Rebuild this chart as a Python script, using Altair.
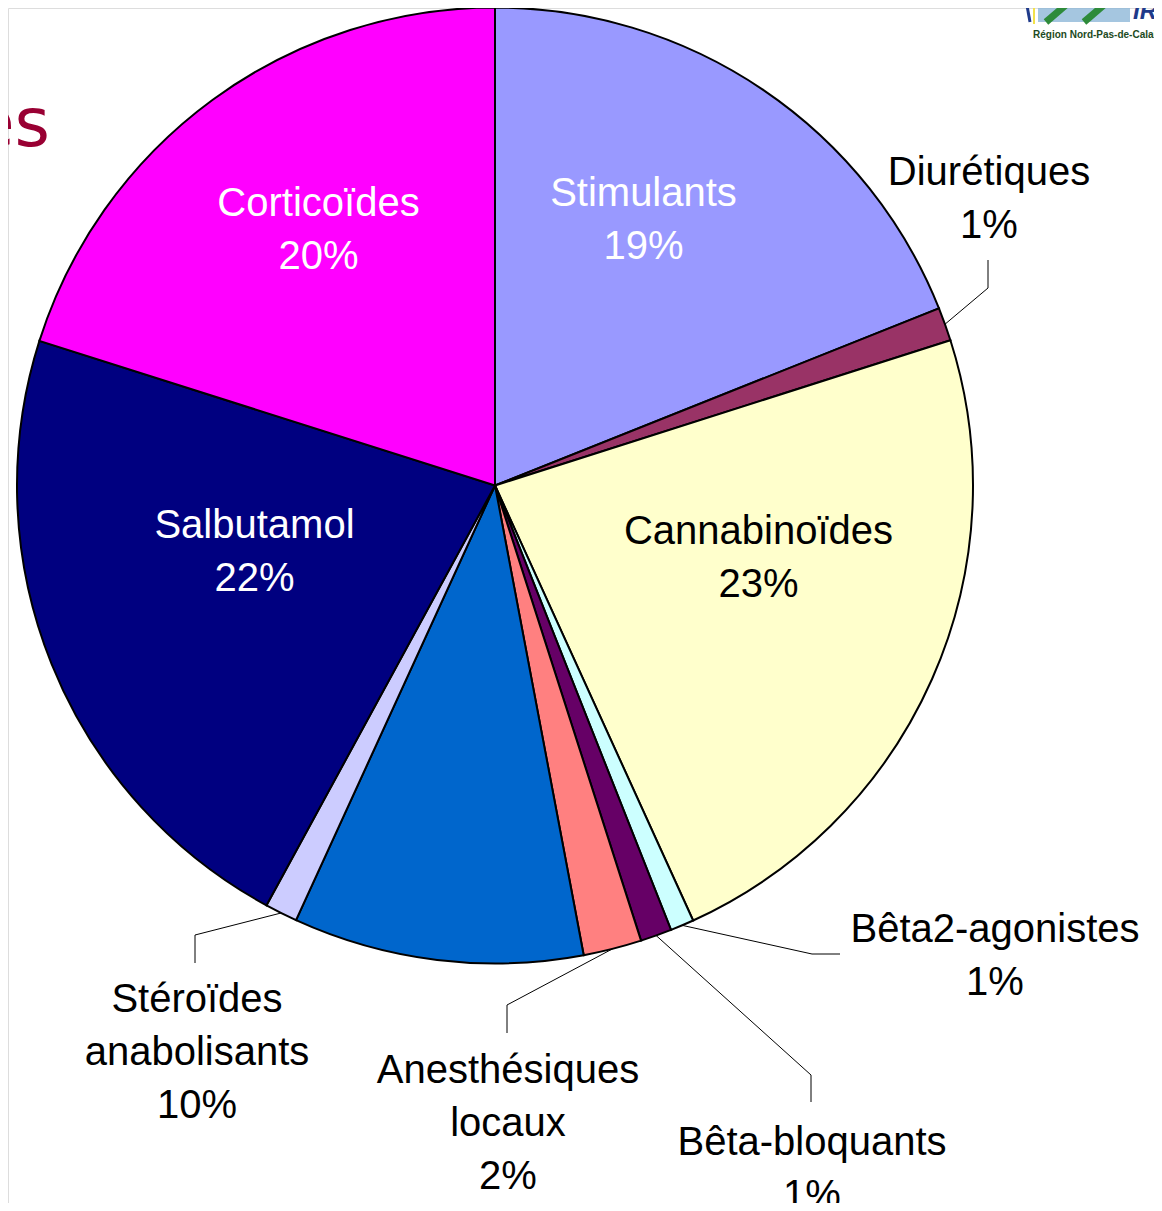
import math
import altair as alt
import pandas as pd

# ---------------- data ----------------
categories = ["Stimulants", "Diurétiques", "Cannabinoïdes", "Bêta2-agonistes",
              "Bêta-bloquants", "Anesthésiques locaux", "Stéroïdes anabolisants",
              "Autres", "Salbutamol", "Corticoïdes"]
values = [18.95, 1.13, 23.1, 0.8, 1.06, 1.97, 9.8, 1.1, 21.95, 20.1]
colors = ["#9999FF", "#993366", "#FFFFCC", "#CCFFFF", "#660066",
          "#FF8080", "#0066CC", "#CCCCFF", "#000080", "#FF00FF"]

label_lines = {
    "Stimulants": ["Stimulants", "19%"],
    "Corticoïdes": ["Corticoïdes", "20%"],
    "Salbutamol": ["Salbutamol", "22%"],
    "Cannabinoïdes": ["Cannabinoïdes", "23%"],
    "Diurétiques": ["Diurétiques", "1%"],
    "Bêta2-agonistes": ["Bêta2-agonistes", "1%"],
    "Bêta-bloquants": ["Bêta-bloquants", "1%"],
    "Anesthésiques locaux": ["Anesthésiques", "locaux", "2%"],
    "Stéroïdes anabolisants": ["Stéroïdes", "anabolisants", "10%"],
}

# ---------------- layout (page pixels) ----------------
OFF = 8                      # page margin
CX, CY, R = 495, 485.5, 478  # pie centre / radius (page coords)
FS, LH = 40, 53

label_layout = {             # centre x, first baseline y, colour
    "Stimulants": (643.5, 206, "white"),
    "Corticoïdes": (318.5, 216, "white"),
    "Salbutamol": (254.5, 538, "white"),
    "Cannabinoïdes": (758.5, 544, "black"),
    "Diurétiques": (989, 185, "black"),
    "Bêta2-agonistes": (995, 942, "black"),
    "Bêta-bloquants": (812, 1155, "black"),
    "Anesthésiques locaux": (508, 1083, "black"),
    "Stéroïdes anabolisants": (197, 1012, "black"),
}
# leader lines: anchor slice, elbow point, end point
leaders = {
    "Diurétiques": ("Diurétiques", (988, 288), (988, 260)),
    "Bêta2-agonistes": ("Bêta2-agonistes", (812, 954), (840, 954)),
    "Bêta-bloquants": ("Bêta-bloquants", (811, 1075), (811, 1102)),
    "Anesthésiques locaux": ("Anesthésiques locaux", (507, 1005), (507, 1033)),
    "Stéroïdes anabolisants": ("Autres", (195, 935), (195, 963)),
}

# ---------------- tables ----------------
pie_df = pd.DataFrame({"cat": categories, "value": values,
                       "idx": list(range(len(categories)))})

total = sum(values)
mid_angle = {}
cum = 0.0
for c, v in zip(categories, values):
    mid_angle[c] = 2 * math.pi * (cum + v / 2) / total
    cum += v

lead_rows = []
for name, (anchor, elbow, end) in leaders.items():
    a = mid_angle[anchor]
    sx = CX + R * math.sin(a)
    sy = CY - R * math.cos(a)
    for k, (px, py) in enumerate([(sx, sy), elbow, end]):
        lead_rows.append({"g": name, "k": k, "x": px - OFF, "y": py - OFF})
lead_df = pd.DataFrame(lead_rows)

txt_rows = []
for name, lines in label_lines.items():
    lx, ly, col = label_layout[name]
    for i, t in enumerate(lines):
        txt_rows.append({"t": t, "x": lx - OFF, "y": ly - OFF + i * LH, "col": col})
txt_df = pd.DataFrame(txt_rows)

W, H = 1146, 1195


def px_x(f="x"):
    return alt.X(f"{f}:Q", scale=None, axis=None)


def px_y(f="y"):
    return alt.Y(f"{f}:Q", scale=None, axis=None)


pie = alt.Chart(pie_df).mark_arc(outerRadius=R, stroke="black", strokeWidth=2).encode(
    theta=alt.Theta("value:Q", stack=True),
    color=alt.Color("cat:N", scale=alt.Scale(domain=categories, range=colors), legend=None),
    order=alt.Order("idx:Q"),
    x=alt.value(CX - OFF),
    y=alt.value(CY - OFF),
)

lead = alt.Chart(lead_df).mark_line(color="black", strokeWidth=1).encode(
    x=px_x(), y=px_y(), detail="g:N", order="k:Q",
)

labels = alt.Chart(txt_df).mark_text(
    font="Liberation Sans", fontSize=FS, align="center", baseline="alphabetic"
).encode(
    x=px_x(), y=px_y(), text="t:N", color=alt.Color("col:N", scale=None),
)

# clipped slide title fragment
title_df = pd.DataFrame({"t": ["es"], "x": [50 - OFF], "y": [146 - OFF]})
title = alt.Chart(title_df).mark_text(
    font="DejaVu Sans", fontSize=68, align="right", baseline="alphabetic", color="#990033"
).encode(x=px_x(), y=px_y(), text="t:N")

# small logo fragment (top-right)
logo_rect = pd.DataFrame({"x": [1038 - OFF], "x2": [1130 - OFF], "y": [0], "y2": [22 - OFF]})
logo_bg = alt.Chart(logo_rect).mark_rect(color="#8fb8d8", opacity=0.8).encode(
    x=px_x(), x2="x2:Q", y=px_y(), y2="y2:Q")
logo_lines = pd.DataFrame({
    "g": ["a", "a", "b", "b", "c", "c", "d", "d"],
    "x": [1046, 1074, 1084, 1112, 1034, 1034, 1026, 1030],
    "y": [22, -2, 22, -2, 0, 24, 0, 22],
    "c": ["#2e8b3a", "#2e8b3a", "#2e8b3a", "#2e8b3a", "#f2e14a", "#f2e14a", "#1f3a8a", "#1f3a8a"],
    "w": [7, 7, 7, 7, 2, 2, 3, 3],
})
logo_lines["x"] = logo_lines["x"] - OFF
logo_lines["y"] = logo_lines["y"] - OFF
logo_strokes = alt.Chart(logo_lines).mark_line().encode(
    x=px_x(), y=px_y(), detail="g:N",
    color=alt.Color("c:N", scale=None), strokeWidth=alt.StrokeWidth("w:Q", scale=None))
logo_txt_df = pd.DataFrame({
    "t": ["IRBA", "Région Nord-Pas-de-Calais"],
    "x": [1133 - OFF, 1033 - OFF], "y": [19 - OFF, 38 - OFF],
})
logo_irba = alt.Chart(logo_txt_df.iloc[[0]]).mark_text(
    font="Liberation Sans", fontWeight="bold", fontStyle="italic", fontSize=24,
    align="left", baseline="alphabetic", color="#1f3a8a").encode(
    x=px_x(), y=px_y(), text="t:N")
logo_reg = alt.Chart(logo_txt_df.iloc[[1]]).mark_text(
    font="Liberation Sans", fontWeight="bold", fontSize=10,
    align="left", baseline="alphabetic", color="#1d4a22").encode(
    x=px_x(), y=px_y(), text="t:N")

chart = alt.layer(pie, lead, labels, title, logo_bg, logo_strokes, logo_irba, logo_reg).properties(
    width=W, height=H, padding=0,
    autosize=alt.AutoSizeParams(type="none"),
).configure_view(stroke="transparent", strokeWidth=0).configure_axis(disable=True).configure(background="white")

chart.save("out.html", embed_options={"renderer": "svg", "actions": False})
